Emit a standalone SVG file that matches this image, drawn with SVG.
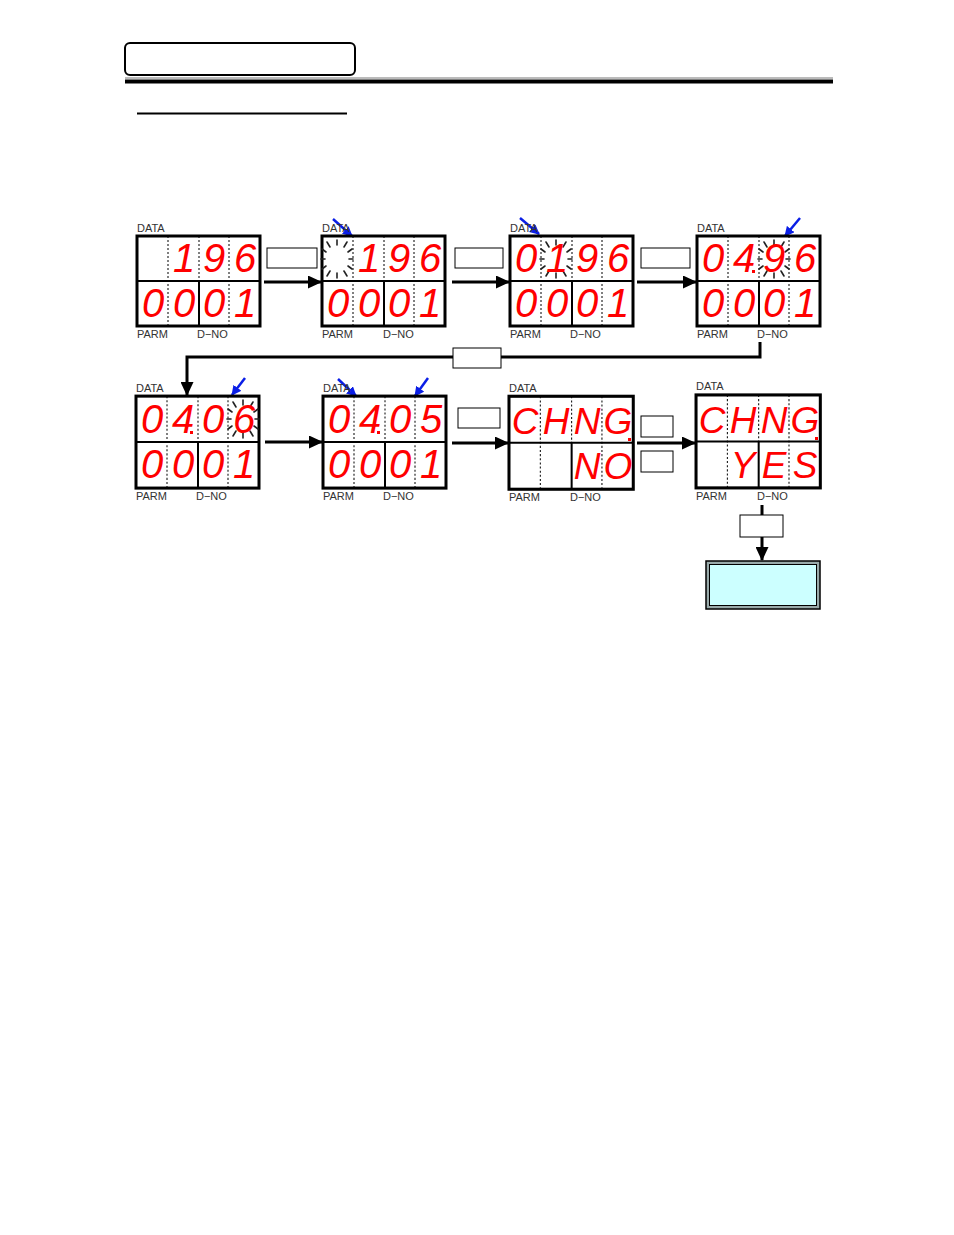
<svg xmlns="http://www.w3.org/2000/svg" xmlns:xlink="http://www.w3.org/1999/xlink" width="954" height="1235" viewBox="0 0 954 1235">
<style>
.frame{fill:#fff;stroke:#000;stroke-width:3}
.dot{stroke:#000;stroke-width:1;stroke-dasharray:2 2}
.mid{stroke:#000;stroke-width:2}
.lbl{font-family:"Liberation Sans",Arial,sans-serif;font-size:11px;fill:#333}
.seg{font-family:"Liberation Sans",Arial,sans-serif;font-style:italic;font-size:40px;fill:#ff0000;text-anchor:middle}
.let{font-size:37px}
.box{fill:#fff;stroke:#000;stroke-width:1}
.conn{fill:none;stroke:#000;stroke-width:3;marker-end:url(#ah)}
.blue{fill:none;stroke:#0a1ee6;stroke-width:2.5;marker-end:url(#bh)}
.bl{stroke:#222;stroke-width:1.6;stroke-linecap:round}
.dp{fill:#ff0000}
</style>
<defs>
<marker id="ah" markerUnits="userSpaceOnUse" markerWidth="14" markerHeight="13" refX="13" refY="6.5" orient="auto">
<path d="M0,0 L14,6.5 L0,13 z" fill="#000"/>
</marker>
<marker id="bh" markerUnits="userSpaceOnUse" markerWidth="10" markerHeight="10" refX="9" refY="5" orient="auto">
<path d="M0,0 L10,5 L0,10 z" fill="#0a1ee6"/>
</marker>
<g id="frame">
<rect class="frame" x="0" y="0" width="123" height="90"/>
<line class="mid" x1="0" y1="45" x2="123" y2="45"/>
<line class="dot" x1="31" y1="0" x2="31" y2="90"/>
<line class="dot" x1="62" y1="0" x2="62" y2="45"/>
<line class="mid" x1="62" y1="45" x2="62" y2="90"/>
<line class="dot" x1="92" y1="0" x2="92" y2="90"/>
</g>
<g id="blink">
<line class="bl" x1="0" y1="-14" x2="0" y2="-19"/>
<line class="bl" x1="7" y1="-12" x2="10" y2="-17"/>
<line class="bl" x1="11" y1="-7" x2="15" y2="-10"/>
<line class="bl" x1="12" y1="0" x2="16" y2="0"/>
<line class="bl" x1="11" y1="7" x2="15" y2="10"/>
<line class="bl" x1="7" y1="12" x2="10" y2="17"/>
<line class="bl" x1="0" y1="14" x2="0" y2="19"/>
<line class="bl" x1="-7" y1="12" x2="-10" y2="17"/>
<line class="bl" x1="-11" y1="7" x2="-15" y2="10"/>
<line class="bl" x1="-12" y1="0" x2="-16" y2="0"/>
<line class="bl" x1="-11" y1="-7" x2="-15" y2="-10"/>
<line class="bl" x1="-7" y1="-12" x2="-10" y2="-17"/>
</g>
</defs>

<g id="header">
<rect x="125" y="43" width="230" height="32" rx="5" fill="#fff" stroke="#000" stroke-width="2"/>
<line x1="125" y1="78" x2="833" y2="78" stroke="#777" stroke-width="1"/>
<line x1="125" y1="81.5" x2="833" y2="81.5" stroke="#000" stroke-width="4"/>
<line x1="137" y1="113.5" x2="347" y2="113.5" stroke="#000" stroke-width="2"/>
</g>

<g id="connectors">
<line class="conn" x1="264" y1="282" x2="321" y2="282"/>
<line class="conn" x1="452" y1="282" x2="509" y2="282"/>
<line class="conn" x1="637" y1="282" x2="696" y2="282"/>
<polyline class="conn" points="760,342 760,357 187,357 187,395"/>
<line class="conn" x1="265" y1="442" x2="322" y2="442"/>
<line class="conn" x1="452" y1="443" x2="508" y2="443"/>
<line class="conn" x1="637" y1="443" x2="695" y2="443"/>
<line class="conn" x1="762" y1="505" x2="762" y2="560"/>
<line class="blue" x1="333" y1="219" x2="352" y2="236"/>
<line class="blue" x1="520" y1="218" x2="539" y2="234"/>
<line class="blue" x1="800" y1="218" x2="785" y2="236"/>
<line class="blue" x1="245" y1="378" x2="232" y2="395"/>
<line class="blue" x1="338" y1="379" x2="356" y2="396"/>
<line class="blue" x1="428" y1="378" x2="415" y2="396"/>
</g>

<g id="labels-boxes">
<rect class="box" x="267" y="248" width="50" height="20"/>
<rect class="box" x="455" y="248" width="48" height="20"/>
<rect class="box" x="641" y="248" width="49" height="20"/>
<rect class="box" x="453" y="348" width="48" height="20"/>
<rect class="box" x="458" y="408" width="42" height="20"/>
<rect class="box" x="641" y="416" width="32" height="21"/>
<rect class="box" x="641" y="451" width="32" height="21"/>
<rect class="box" x="740" y="515" width="43" height="22"/>
</g>

<g id="p1">
<text class="lbl" x="137" y="232">DATA</text>
<use xlink:href="#frame" x="137" y="236"/>
<text class="seg" x="184 214 245" y="272">196</text>
<text class="seg" x="153 184 214 245" y="317">0001</text>
<text class="lbl" x="137" y="338">PARM</text>
<text class="lbl" x="197" y="338">D−NO</text>
</g>

<g id="p2">
<text class="lbl" x="322" y="232">DATA</text>
<use xlink:href="#frame" x="322" y="236"/>
<use xlink:href="#blink" x="337" y="259"/>
<text class="seg" x="369 399 430" y="272">196</text>
<text class="seg" x="338 369 399 430" y="317">0001</text>
<text class="lbl" x="322" y="338">PARM</text>
<text class="lbl" x="383" y="338">D−NO</text>
</g>

<g id="p3">
<text class="lbl" x="510" y="232">DATA</text>
<use xlink:href="#frame" x="510" y="236"/>
<use xlink:href="#blink" x="556" y="259"/>
<text class="seg" x="526 557 587 618" y="272">0196</text>
<text class="seg" x="526 557 587 618" y="317">0001</text>
<text class="lbl" x="510" y="338">PARM</text>
<text class="lbl" x="570" y="338">D−NO</text>
</g>

<g id="p4">
<text class="lbl" x="697" y="232">DATA</text>
<use xlink:href="#frame" x="697" y="236"/>
<use xlink:href="#blink" x="774" y="259"/>
<text class="seg" x="713 744 774 805" y="272">0496</text>
<rect class="dp" x="752" y="270" width="3" height="3"/>
<text class="seg" x="713 744 774 805" y="317">0001</text>
<text class="lbl" x="697" y="338">PARM</text>
<text class="lbl" x="757" y="338">D−NO</text>
</g>

<g id="p5">
<text class="lbl" x="136" y="392">DATA</text>
<use xlink:href="#frame" x="136" y="396" transform="translate(0,-8.6) scale(1,1.022)"/>
<use xlink:href="#blink" x="243" y="419"/>
<text class="seg" x="152 183 213 244" y="433">0406</text>
<rect class="dp" x="190" y="431" width="3" height="3"/>
<text class="seg" x="152 183 213 244" y="478">0001</text>
<text class="lbl" x="136" y="500">PARM</text>
<text class="lbl" x="196" y="500">D−NO</text>
</g>

<g id="p6">
<text class="lbl" x="323" y="392">DATA</text>
<use xlink:href="#frame" x="323" y="396" transform="translate(0,-8.6) scale(1,1.022)"/>
<text class="seg" x="339 370 400 431" y="433">0405</text>
<rect class="dp" x="377" y="431" width="3" height="3"/>
<text class="seg" x="339 370 400 431" y="478">0001</text>
<text class="lbl" x="323" y="500">PARM</text>
<text class="lbl" x="383" y="500">D−NO</text>
</g>

<g id="p7">
<text class="lbl" x="509" y="392">DATA</text>
<use xlink:href="#frame" x="509" y="396" transform="translate(-5.3,-12.8) scale(1.0104,1.033)"/>
<text class="seg let" x="525 556 587 618" y="434">CHNG</text>
<rect class="dp" x="628" y="438" width="3" height="3"/>
<text class="seg let" x="587 618" y="479">NO</text>
<text class="lbl" x="509" y="501">PARM</text>
<text class="lbl" x="570" y="501">D−NO</text>
</g>

<g id="p8">
<text class="lbl" x="696" y="390">DATA</text>
<use xlink:href="#frame" x="696" y="395" transform="translate(-7.2,-13.1) scale(1.0104,1.033)"/>
<text class="seg let" x="712 743 774 805" y="433">CHNG</text>
<rect class="dp" x="815" y="437" width="3" height="3"/>
<text class="seg let" x="743 774 805" y="478">YES</text>
<text class="lbl" x="696" y="500">PARM</text>
<text class="lbl" x="757" y="500">D−NO</text>
</g>

<g id="final">
<rect x="706" y="561" width="114" height="48" fill="#9aa" stroke="#000" stroke-width="1.5"/>
<rect x="709.5" y="564.5" width="107" height="41" fill="#ccffff" stroke="#000" stroke-width="1"/>
</g>
</svg>
